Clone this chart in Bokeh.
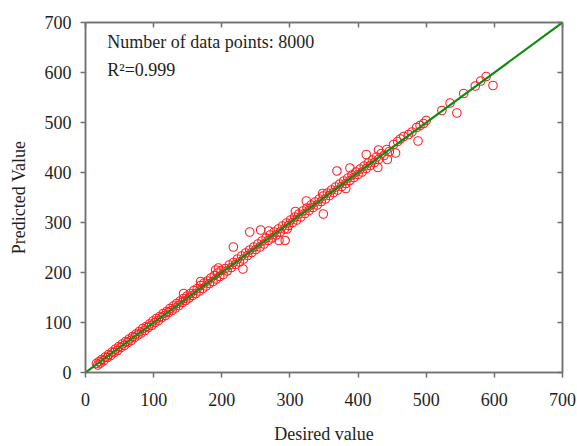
from bokeh.plotting import figure
from bokeh.models import Range1d, FixedTicker, LinearAxis, Label
from bokeh.embed import file_html
from bokeh.resources import INLINE

# Desired vs. predicted values (sampled points of the validation set)
desired = [
    16, 18, 20, 22, 24, 27, 29, 32, 34, 37, 39, 42, 44, 47, 49, 52, 54, 57, 59, 62,
    64, 67, 69, 72, 74, 77, 79, 82, 84, 87, 89, 92, 94, 97, 99, 102, 104, 107, 109, 112,
    114, 117, 119, 122, 124, 127, 129, 132, 134, 137, 139, 142, 144, 147, 149, 152, 154, 157, 159, 162,
    164, 167, 169, 172, 174, 177, 179, 182, 184, 187, 189, 192, 194, 197, 199, 202,
    144, 169, 195,
    205, 208, 211, 214, 217, 220, 223, 226, 229, 232, 235, 238, 241, 244, 247, 250, 253, 256, 259, 262,
    265, 268, 271, 274, 277, 280, 283, 286, 289, 292, 295, 298, 301, 304, 307, 310, 313, 316, 319, 322,
    325, 328, 331, 334, 337, 340, 343, 346, 349, 352, 355, 358, 361, 364, 367, 370, 373, 376, 379, 382,
    385, 388, 391, 394, 397, 400, 403, 406, 409, 412, 415, 418, 421, 424, 427, 430, 434, 438, 442, 446,
    452, 458, 462, 467, 474, 479, 486, 491, 496, 500,
    191, 217, 231, 241, 257, 269, 284, 293, 296, 308, 324, 348, 349, 369, 388, 382, 412, 430, 429, 443,
    455, 488,
    523, 535, 545, 555, 572, 580, 588, 598,
]
predicted = [
    18, 15, 22, 19, 26, 24, 31, 30, 36, 34, 41, 40, 47, 44, 52, 50, 57, 54, 62, 60,
    67, 64, 72, 70, 77, 75, 82, 79, 88, 84, 92, 90, 97, 94, 103, 100, 108, 104, 112, 110,
    118, 114, 122, 120, 128, 124, 133, 129, 138, 134, 143, 140, 148, 144, 153, 149, 158, 154, 164, 158,
    168, 163, 174, 168, 179, 173, 183, 178, 189, 182, 194, 187, 199, 192, 204, 196,
    158, 182, 209,
    208, 203, 215, 210, 220, 216, 227, 221, 233, 227, 239, 234, 245, 240, 251, 246, 257, 251, 263, 257,
    269, 264, 275, 269, 281, 275, 287, 281, 293, 287, 299, 294, 305, 300, 311, 305, 317, 311, 323, 318,
    329, 324, 335, 330, 341, 335, 347, 342, 353, 347, 359, 354, 365, 360, 371, 365, 377, 372, 383, 378,
    389, 384, 395, 390, 401, 396, 407, 401, 413, 408, 419, 414, 425, 420, 431, 426, 438, 434, 446, 442,
    456, 462, 467, 472, 476, 481, 490, 494, 498, 504,
    205, 251, 207, 281, 285, 283, 264, 264, 287, 322, 343, 358, 317, 403, 409, 368, 436, 445, 410, 426,
    439, 463,
    524, 539, 519, 558, 573, 583, 592, 574,
]

x_ticks = [0, 100, 200, 300, 400, 500, 600, 700]
y_ticks = [0, 100, 200, 300, 400, 500, 600, 700]

FONT = "Liberation Serif"
FRAME = "#707070"
TEXT = "#1e1e1e"

p = figure(width=577, height=446, output_backend="svg", toolbar_location=None,
           x_range=Range1d(0, 700), y_range=Range1d(0, 700),
           min_border_left=85, min_border_right=15, min_border_top=22, min_border_bottom=73)
p.grid.visible = False
p.outline_line_color = FRAME
p.outline_line_width = 1.5
p.background_fill_color = "white"
p.border_fill_color = "white"

for ax, ticks in ((p.xaxis[0], x_ticks), (p.yaxis[0], y_ticks)):
    ax.ticker = FixedTicker(ticks=ticks)
    ax.minor_tick_line_color = None
    ax.major_tick_in = 0
    ax.major_tick_out = 5
    ax.axis_line_color = FRAME
    ax.axis_line_width = 1.5
    ax.major_tick_line_color = FRAME
    ax.major_tick_line_width = 1.5
    ax.major_label_text_font = FONT
    ax.major_label_text_font_size = "18px"
    ax.major_label_text_color = TEXT
    ax.axis_label_text_font = FONT
    ax.axis_label_text_font_size = "18px"
    ax.axis_label_text_font_style = "normal"
    ax.axis_label_text_color = TEXT

p.xaxis.axis_label = "Desired value"
p.yaxis.axis_label = "Predicted Value"
p.xaxis.major_label_standoff = 15
p.xaxis.axis_label_standoff = 15
p.yaxis.major_label_standoff = 9
p.yaxis.axis_label_standoff = 13


def mirror_axis(ticks):
    # Tick marks only, pointing into the plot, with no labels
    return LinearAxis(ticker=FixedTicker(ticks=ticks), major_tick_in=5, major_tick_out=0,
                      minor_tick_line_color=None, axis_line_color=FRAME, axis_line_width=1.5,
                      major_tick_line_color=FRAME, major_tick_line_width=1.5,
                      major_label_overrides={t: "" for t in ticks}, major_label_standoff=0)


p.add_layout(mirror_axis(x_ticks), "above")
p.add_layout(mirror_axis(y_ticks), "right")

p.scatter(desired, predicted, marker="circle", size=8.5, fill_color=None,
          line_color="#ff2020", line_width=1.1)

# Ideal y = x reference line
p.line([0, 700], [0, 700], line_color="#108a10", line_width=2.2)

p.add_layout(Label(x=32, y=661, text="Number of data points: 8000", text_font=FONT,
                   text_font_size="18px", text_color=TEXT, text_baseline="alphabetic"))
p.add_layout(Label(x=32, y=606, text="R²=0.999", text_font=FONT,
                   text_font_size="18px", text_color=TEXT, text_baseline="alphabetic"))

open("out.html", "w").write(file_html(p, INLINE))
